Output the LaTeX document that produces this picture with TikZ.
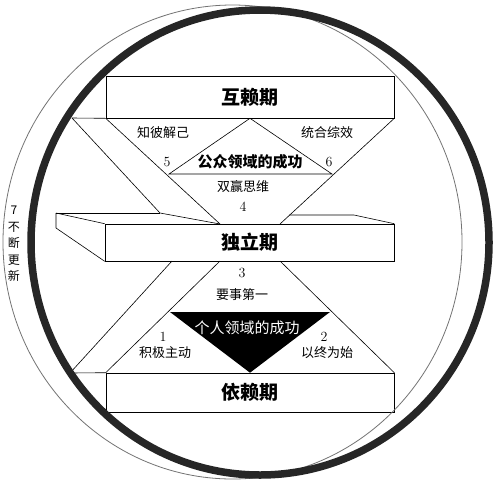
\documentclass[tikz,border=0pt]{standalone}
\usepackage{fontspec}
\newfontfamily\cjk{Noto Sans CJK SC}
\usetikzlibrary{calc,positioning}

\begin{document}
\begin{tikzpicture}[x=1pt, y=-1pt, semithick]

    \tikzstyle{stage} = [rectangle, minimum width=288pt, text centered, draw=black, inner sep=0pt, font=\cjk\bfseries\fontsize{19}{19}\selectfont]
    \tikzstyle{habit} = [inner sep=0pt, font=\cjk\fontsize{13}{13}\selectfont]
    \tikzstyle{num}   = [inner sep=0pt, font=\fontsize{14}{14}\selectfont]
    \tikzstyle{field} = [inner sep=0pt, font=\cjk\fontsize{15}{15}\selectfont]

    \useasboundingbox (0,0) rectangle (497,483);

    \node (mutual) [stage, minimum height=42pt]                      at (250,97)    {互赖期};
    \node (indep)  [stage, minimum width=289pt, minimum height=37pt] at (249.5,242.5) {独立期};
    \node (dep)    [stage, minimum height=39pt]                      at (250,392.5) {依赖期};

    \coordinate (tl)    at (72,118);
    \coordinate (bend)  at (160,213);
    \coordinate (ml)    at (220,224);
    \coordinate (mr)    at (280,224);
    \coordinate (pubL)  at (169,174);
    \coordinate (pubR)  at (332,174);
    \coordinate (back)  at (56,213);
    \coordinate (backlow) at (56,228);
    \coordinate (rback) at (289,215);
    \coordinate (rcorner) at (354,215);
    \coordinate (bl2)   at (172,261);
    \coordinate (bl)    at (220,261);
    \coordinate (br)    at (280,261);
    \coordinate (lowl)  at (70,373);
    \coordinate (privL) at (170,312);
    \coordinate (privR) at (330,312);

    % upper half
    \draw (tl) -- (mutual.south west);
    \draw (tl) -- (bend) -- (ml);
    \draw (mutual.south west) -- (ml);
    \draw (mutual.south east) -- (mr);
    \draw (pubL) -- (mutual.south) -- (pubR) -- cycle;

    % block of the middle
    \draw (back) -- (bend);
    \draw (back) -- (indep.north west);
    \draw (back) -- (backlow) -- (indep.south west);
    \draw (rback) -- (rcorner) -- (indep.north east);

    % lower half
    \draw (bl2) -- (lowl) -- (dep.north west);
    \draw (bl) -- (dep.north west);
    \draw (br) -- (dep.north east);
    \fill[black] (privL) -- (privR) -- (dep.north) -- cycle;

    \node (seek)    [habit] at (163,133) {知彼解己};
    \node (synergy) [habit] at (327,133) {统合综效};
    \node (n5)      [num]   at (167,162) {5};
    \node (n6)      [num]   at (329,162) {6};
    \node (public)  [field, font=\cjk\bfseries\fontsize{15}{15}\selectfont] at (250,162) {公众领域的成功};
    \node (winwin)  [habit] at (243,187) {双赢思维};
    \node (n4)      [num]   at (243,207) {4};
    \node (n3)      [num]   at (242,273) {3};
    \node (first)   [habit] at (242,295) {要事第一};
    \node (private) [field, text=white] at (247,328) {个人领域的成功};
    \node (n1)      [num]   at (163,337) {1};
    \node (proact)  [habit] at (165,353) {积极主动};
    \node (n2)      [num]   at (324,337) {2};
    \node (endmind) [habit] at (327,353) {以终为始};
    \node (renew)   [align=center, inner sep=0pt, font=\cjk\fontsize{12}{16.5}\selectfont] at (14,244) {7\\不\\断\\更\\新};

    % the two rings
    \draw[black!55, line width=0.8pt] (232.5,242) ellipse [x radius=229.5, y radius=237];
    \draw[black!85, line width=7.5pt] (260,242.5) ellipse [x radius=229, y radius=232.5];
\end{tikzpicture}
\end{document}
